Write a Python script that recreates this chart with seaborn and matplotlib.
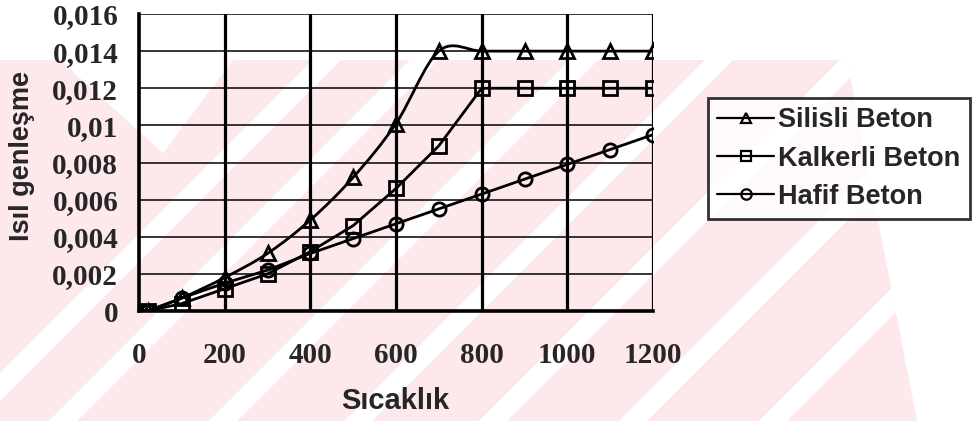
import numpy as np
import pandas as pd
import matplotlib
matplotlib.use("Agg")
import matplotlib.pyplot as plt
import seaborn as sns
from matplotlib.path import Path
from matplotlib.patches import PathPatch, Polygon
from matplotlib.lines import Line2D

# ---------------- data ----------------
sicaklik = [20, 100, 200, 300, 400, 500, 600, 700, 800, 900, 1000, 1100, 1200]
silisli = [0, 0.0007, 0.0018, 0.0031, 0.0049, 0.0072, 0.0101, 0.014, 0.014, 0.014, 0.014, 0.014, 0.014]
kalkerli = [0, 0.0004, 0.0012, 0.002, 0.0032, 0.0046, 0.0066, 0.0089, 0.012, 0.012, 0.012, 0.012, 0.012]
hafif = [0, 0.0007, 0.0015, 0.0022, 0.0031, 0.0039, 0.0047, 0.0055, 0.0063, 0.0071, 0.0079, 0.0087, 0.0095]

seri_adlari = ["Silisli Beton", "Kalkerli Beton", "Hafif Beton"]
x_ticks = [0, 200, 400, 600, 800, 1000, 1200]
y_ticks = [0, 0.002, 0.004, 0.006, 0.008, 0.01, 0.012, 0.014, 0.016]
y_tick_labels = ["0", "0,002", "0,004", "0,006", "0,008", "0,01", "0,012", "0,014", "0,016"]

W, H = 974, 421
sns.set_style("white")
plt.rcParams["font.family"] = ["Liberation Sans", "DejaVu Sans"]

fig = plt.figure(figsize=(W / 100, H / 100), dpi=100)


def px(x, y):
    return (x / W, 1 - y / H)


# ---- pembe filigran (arka plan) ----
pembe = "#fde8ec"
taban = Polygon([px(0, 60), px(847, 60), px(917, 421), px(0, 421)],
                closed=True, transform=fig.transFigure, facecolor=pembe,
                edgecolor="none", zorder=-5)
fig.patches.append(taban)
for c in [373, 470, 630, 765, 900, 1040, 1180]:
    w = 28
    serit = Polygon([px(c - 60, 60), px(c + w - 60, 60), px(c + w - 421, 421), px(c - 421, 421)],
                    closed=True, transform=fig.transFigure, facecolor="white",
                    edgecolor="none", zorder=-4)
    fig.patches.append(serit)
    serit.set_clip_path(taban)
centik = Polygon([px(60, 60), px(233, 60), px(163, 153)], closed=True,
                 transform=fig.transFigure, facecolor="white", edgecolor="none", zorder=-4)
fig.patches.append(centik)

# ---------------- axes ----------------
ax = fig.add_axes([139 / W, 1 - 311 / H, (653 - 139) / W, (311 - 14) / H])
ax.set_facecolor("none")

df = pd.DataFrame({"x": sicaklik, "Silisli": silisli, "Kalkerli": kalkerli, "Hafif": hafif})

# Silisli: smoothed (excel-like bezier) line + markers
xs = np.array(sicaklik, dtype=float)
ys = np.array(silisli, dtype=float)
verts = [(xs[0], ys[0])]
codes = [Path.MOVETO]
n = len(xs)
for i in range(n - 1):
    p0 = np.array([xs[max(i - 1, 0)], ys[max(i - 1, 0)]])
    p1 = np.array([xs[i], ys[i]])
    p2 = np.array([xs[i + 1], ys[i + 1]])
    p3 = np.array([xs[min(i + 2, n - 1)], ys[min(i + 2, n - 1)]])
    c1 = p1 + (p2 - p0) / 6
    c2 = p2 - (p3 - p1) / 6
    verts += [tuple(c1), tuple(c2), tuple(p2)]
    codes += [Path.CURVE4] * 3
ax.add_patch(PathPatch(Path(verts, codes), facecolor="none", edgecolor="black", lw=2.0, zorder=3))

ortak = dict(color="black", markerfacecolor="none", markeredgecolor="black",
             markeredgewidth=2.0, zorder=4)
sns.lineplot(data=df, x="x", y="Silisli", ax=ax, linestyle="", marker="^", markersize=10.5, **ortak)
sns.lineplot(data=df, x="x", y="Kalkerli", ax=ax, lw=2.0, marker="s", markersize=9.5, **ortak)
sns.lineplot(data=df, x="x", y="Hafif", ax=ax, lw=2.0, marker="o", markersize=9.5, **ortak)

ax.set_xlim(0, 1200)
ax.set_ylim(0, 0.016)
ax.set_xticks(x_ticks)
ax.set_yticks(y_ticks)
ax.set_yticklabels(y_tick_labels)
ax.set_xlabel("")
ax.set_ylabel("")

for yv in y_ticks[1:]:
    ax.axhline(yv, color="black", lw=1.1, zorder=1)
for xv in x_ticks[1:]:
    ax.axvline(xv, color="black", lw=2.3, zorder=1)

for s in ["top", "right"]:
    ax.spines[s].set_visible(False)
for s in ["left", "bottom"]:
    ax.spines[s].set_linewidth(2.6)
    ax.spines[s].set_color("black")

ax.tick_params(axis="both", direction="out", length=6, width=2.3, color="black")
ax.tick_params(axis="y", pad=9)
ax.tick_params(axis="x", pad=16)
for lab in ax.get_xticklabels() + ax.get_yticklabels():
    lab.set_fontfamily("Liberation Serif")
    lab.set_fontweight("bold")
    lab.set_fontsize(21)

fig.text(22 / W, 1 - 156 / H, "Isıl genleşme", rotation=90, ha="center", va="center",
         fontsize=19.5, fontweight="bold")
fig.text(395 / W, 1 - 401 / H, "Sıcaklık", ha="center", va="center",
         fontsize=21, fontweight="bold")

# ---------------- legend ----------------
isaretler = ["^", "s", "o"]
tutamaclar = [Line2D([0], [0], color="black", lw=1.6, marker=m, markersize=7.5,
                     markerfacecolor="none", markeredgewidth=1.6) for m in isaretler]
leg = fig.legend(tutamaclar, seri_adlari, loc="upper right", bbox_to_anchor=px(970, 98),
                 frameon=True, fancybox=False, shadow=False, handlelength=2.1,
                 handletextpad=0.15, labelspacing=0.45, borderpad=0.35, borderaxespad=0,
                 prop={"family": "Liberation Sans", "weight": "bold", "size": 19.5})
leg.get_frame().set_edgecolor("black")
leg.get_frame().set_linewidth(2.0)

fig.savefig("out.png", dpi=100)
